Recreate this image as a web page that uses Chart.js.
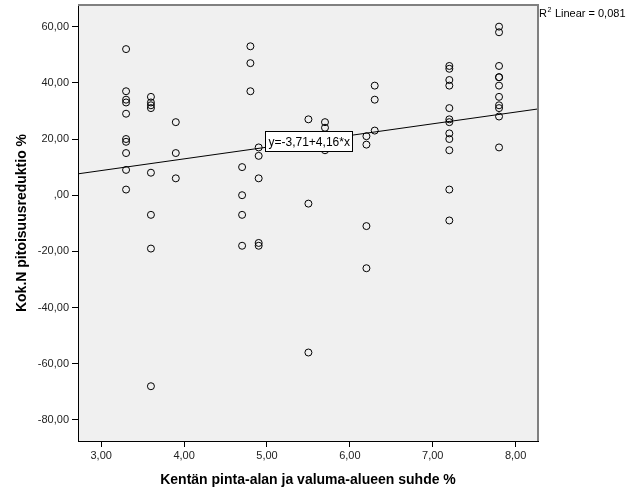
<!DOCTYPE html>
<html lang="fi">
<head>
    <meta charset="UTF-8">
    <title>Kok.N pitoisuusreduktio</title>
    <script src="https://cdn.jsdelivr.net/npm/chart.js@4.4.0/dist/chart.umd.min.js"></script>
    <style>
        body { margin: 0; background: #fff; }
    </style>
</head>
<body>
    <canvas id="myChart" width="626" height="501"></canvas>

    <script>
        // data (x = area ratio, y = N reduction)
        const xValues = [
            3.3, 3.3, 3.3, 3.3, 3.3, 3.3, 3.3, 3.3, 3.3, 3.3,
            3.6, 3.6, 3.6, 3.6, 3.6, 3.6, 3.6, 3.6,
            3.9, 3.9, 3.9,
            4.7, 4.7, 4.7, 4.7,
            4.8, 4.8, 4.8,
            4.9, 4.9, 4.9, 4.9, 4.9,
            5.5, 5.5, 5.5,
            5.7, 5.7, 5.7,
            6.2, 6.2, 6.2, 6.2,
            6.3, 6.3, 6.3,
            7.2, 7.2, 7.2, 7.2, 7.2, 7.2, 7.2, 7.2, 7.2, 7.2, 7.2, 7.2,
            7.8, 7.8, 7.8, 7.8, 7.8, 7.8, 7.8, 7.8, 7.8, 7.8, 7.8
        ];
        const yValues = [
            52, 37, 34, 33, 29, 20, 19, 15, 9, 2,
            35, 33, 32, 31, 8, -7, -19, -68,
            26, 15, 6,
            10, 0, -7, -18,
            53, 47, 37,
            17, 14, 6, -17, -18,
            27, -3, -56,
            26, 24, 16,
            21, 18, -11, -26,
            39, 34, 23,
            46, 45, 41, 39, 31, 27, 26, 22, 20, 16, 2, -9,
            60, 58, 46, 42, 42, 39, 35, 32, 31, 28, 17
        ];
        // fit line end points (read at the plot edges)
        const fitX = [2.72, 8.27];
        const fitY = [7.6, 30.7];
        const xTicks = [3, 4, 5, 6, 7, 8];
        const yTicks = [60, 40, 20, 0, -20, -40, -60, -80];
        const fitLabel = 'y=-3,71+4,16*x';
        const r2Label = ' Linear = 0,081';

        const FONT = "'Liberation Sans', Arial, sans-serif";

        function fmt(v) {
            if (v === 0) return ',00';
            return v.toFixed(2).replace('.', ',');
        }

        const frame = {
            id: 'frame',
            beforeDraw(chart) {
                const { ctx, chartArea: a } = chart;
                ctx.save();
                ctx.fillStyle = '#f0f0f0';
                ctx.fillRect(a.left, a.top, a.right - a.left, a.bottom - a.top);
                ctx.restore();
            },
            afterDraw(chart) {
                const { ctx, chartArea: a } = chart;
                const xs = chart.scales.x, ys = chart.scales.y;
                ctx.save();
                // grey top / right edges
                ctx.fillStyle = '#808080';
                ctx.fillRect(a.left, a.top - 1, a.right - a.left + 1, 2);
                ctx.fillRect(a.right - 1, a.top - 1, 2, a.bottom - a.top + 1);

                // fit equation box
                ctx.font = '12px ' + FONT;
                const tw = ctx.measureText(fitLabel).width;
                const bx = Math.round(xs.getPixelForValue(4.98)) + 0.5;
                const by = Math.round(ys.getPixelForValue(22.9)) + 0.5;
                const bw = Math.round(tw + 6), bh = 20;
                ctx.fillStyle = '#fff';
                ctx.fillRect(bx, by, bw, bh);
                ctx.strokeStyle = '#000';
                ctx.lineWidth = 1;
                ctx.strokeRect(bx, by, bw, bh);
                ctx.fillStyle = '#000';
                ctx.textBaseline = 'middle';
                ctx.fillText(fitLabel, bx + 3, by + bh / 2 + 1);

                // R2 note
                const rx = a.right + 1;
                ctx.font = '11px ' + FONT;
                ctx.fillText('R', rx, 14);
                const rw = ctx.measureText('R').width;
                ctx.font = '7px ' + FONT;
                ctx.fillText('2', rx + rw + 0.5, 10);
                const sw = ctx.measureText('2').width;
                ctx.font = '11px ' + FONT;
                ctx.fillText(r2Label, rx + rw + sw + 1, 14);
                ctx.restore();
            }
        };

        const ctx = document.getElementById('myChart').getContext('2d');
        const myChart = new Chart(ctx, {
            type: 'scatter',
            data: {
                datasets: [
                    {
                        type: 'line',
                        data: fitX.map((x, i) => ({ x: x, y: fitY[i] })),
                        borderColor: '#000',
                        borderWidth: 1,
                        pointRadius: 0,
                        fill: false
                    },
                    {
                        data: xValues.map((x, i) => ({ x: x, y: yValues[i] })),
                        pointStyle: 'circle',
                        pointRadius: 3.5,
                        pointHoverRadius: 3.5,
                        backgroundColor: 'rgba(0,0,0,0)',
                        borderColor: '#000',
                        borderWidth: 1
                    }
                ]
            },
            options: {
                responsive: false,
                animation: false,
                devicePixelRatio: 1,
                layout: { padding: { left: 0, top: 5, right: 88, bottom: 0 } },
                plugins: {
                    legend: { display: false },
                    tooltip: { enabled: false }
                },
                scales: {
                    x: {
                        type: 'linear',
                        min: 2.72,
                        max: 8.27,
                        afterBuildTicks: s => { s.ticks = xTicks.map(v => ({ value: v })); },
                        afterFit: s => { s.height = 60; s.paddingLeft = 0; s.paddingRight = 0; },
                        grid: { drawOnChartArea: false, drawTicks: true, tickLength: 6, tickColor: '#000' },
                        border: { display: true, color: '#000', width: 1 },
                        ticks: {
                            padding: 2,
                            color: '#222',
                            font: { family: FONT, size: 11 },
                            callback: v => fmt(v)
                        },
                        title: {
                            display: true,
                            text: 'Kentän pinta-alan ja valuma-alueen suhde %',
                            color: '#000',
                            font: { family: FONT, size: 14, weight: 'bold' },
                            padding: { top: 0, bottom: 12 }
                        }
                    },
                    y: {
                        type: 'linear',
                        min: -87.5,
                        max: 67.7,
                        afterBuildTicks: s => { s.ticks = yTicks.map(v => ({ value: v })); },
                        afterFit: s => { s.width = 78; s.paddingTop = 0; s.paddingBottom = 0; },
                        grid: { drawOnChartArea: false, drawTicks: true, tickLength: 6, tickColor: '#000' },
                        border: { display: true, color: '#000', width: 1 },
                        ticks: {
                            padding: 3,
                            color: '#222',
                            font: { family: FONT, size: 11 },
                            callback: v => fmt(v)
                        },
                        title: {
                            display: true,
                            text: 'Kok.N pitoisuusreduktio %',
                            color: '#000',
                            font: { family: FONT, size: 14, weight: 'bold' },
                            padding: { top: 14, bottom: 0 }
                        }
                    }
                }
            },
            plugins: [frame]
        });
    </script>
</body>
</html>
